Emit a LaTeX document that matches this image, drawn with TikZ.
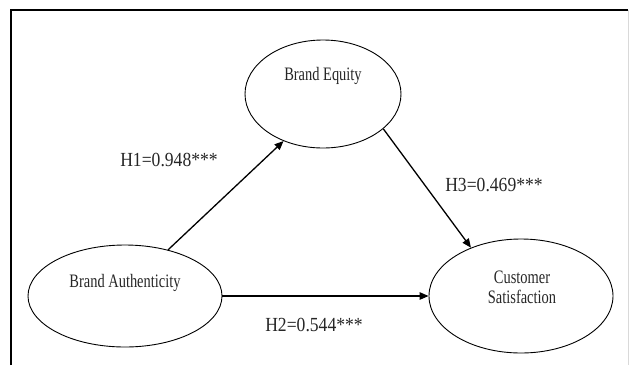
\documentclass[tikz,border=0pt]{standalone}
\usepackage{fontspec}
\setmainfont[FakeStretch=0.76]{Liberation Serif}
\newfontfamily\hypfont[FakeStretch=0.88]{Liberation Serif}
\usetikzlibrary{shapes,arrows.meta,positioning,calc}

\tikzset{
    construct/.style={ellipse, draw, line width=0.9pt, inner sep=0pt},
    ctext/.style={font=\fontsize{19}{21}\selectfont, align=center, text=black!85},
    path/.style={line width=1.3pt, -{Triangle[length=9pt,width=7.5pt]}},
    coef/.style={font=\hypfont\fontsize{20}{22}\selectfont, text=black!85}
}

\begin{document}
\begin{tikzpicture}[x=1pt, y=-1pt]
    \useasboundingbox (0,0) rectangle (632,365);
    % frame
    \draw[line width=1.6pt] (11,365) -- (11,10) -- (628,10);
    \draw[black!15, line width=0.8pt] (628,10) -- (628,365);

    % constructs
    \node[construct, minimum width=156pt, minimum height=108pt] (equity) at (323,94) {};
    \node[construct, minimum width=194pt, minimum height=102pt] (authenticity) at (125,296) {};
    \node[construct, minimum width=184pt, minimum height=114pt] (satisfaction) at (521,296) {};

    \node[ctext] (equitytxt) at (323,76) {Brand Equity};
    \node[ctext] (authtxt) at (125,283) {Brand Authenticity};
    \node[ctext] (sattxt) at (522,287) {Customer\\[-1pt]Satisfaction};

    % paths
    \draw[path] (authenticity.47) -- (equity.230);
    \draw[path] (equity.330) -- (satisfaction.136);
    \draw[path] (authenticity.east) -- (satisfaction.west);

    \node[coef] (h1) at (169,160) {H1=0.948***};
    \node[coef] (h3) at (494,185) {H3=0.469***};
    \node[coef] (h2) at (314,325) {H2=0.544***};
\end{tikzpicture}
\end{document}
